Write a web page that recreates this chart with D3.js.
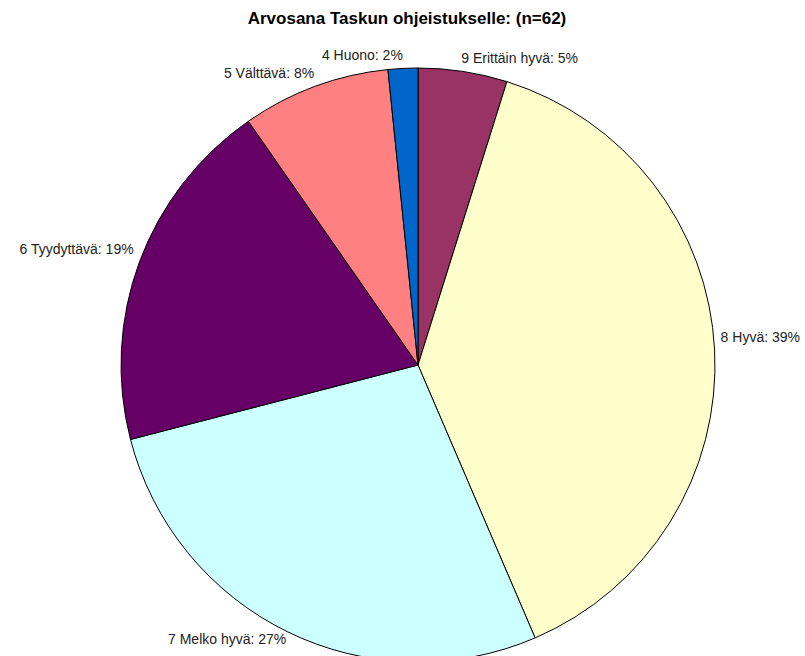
<!DOCTYPE html>
<html lang="fi">
<head>
<meta charset="utf-8">
<title>Arvosana Taskun ohjeistukselle</title>
<script src="https://cdn.jsdelivr.net/npm/d3@7"></script>
<style>
  body { margin: 0; background: #fff; }
  text { font-family: "Liberation Sans", Arial, sans-serif; }
</style>
</head>
<body>
<svg id="chart" width="805" height="656"></svg>
<script>
// data (n = 62), clockwise from 12 o'clock
var categories = ["9 Erittäin hyvä", "8 Hyvä", "7 Melko hyvä", "6 Tyydyttävä", "5 Välttävä", "4 Huono"];
var counts = [3, 24, 17, 12, 5, 1];
var colors = ["#993366", "#FFFFCC", "#CCFFFF", "#660066", "#FF8080", "#0066CC"];
var title = "Arvosana Taskun ohjeistukselle: (n=62)";

var total = d3.sum(counts);
var data = categories.map(function(c, i) { return { name: c, value: counts[i], color: colors[i] }; });

var svg = d3.select("#chart");
var cx = 418, cy = 365, r = 297;

// title
svg.append("text")
  .attr("x", 407)
  .attr("y", 24)
  .attr("text-anchor", "middle")
  .attr("font-size", "17px")
  .attr("font-weight", "bold")
  .attr("fill", "#000")
  .text(title);

var pie = d3.pie().sort(null).value(function(d) { return d.value; });
var arc = d3.arc().innerRadius(0).outerRadius(r);
var arcs = pie(data);

var g = svg.append("g").attr("transform", "translate(" + cx + "," + cy + ")");

g.selectAll("path")
  .data(arcs)
  .enter()
  .append("path")
  .attr("d", arc)
  .attr("fill", function(d) { return d.data.color; })
  .attr("stroke", "#000")
  .attr("stroke-width", 1);

// labels just outside the rim at each slice's mid angle
g.selectAll("text.lbl")
  .data(arcs)
  .enter()
  .append("text")
  .attr("class", "lbl")
  .attr("font-size", "14px")
  .attr("fill", "#222")
  .attr("dominant-baseline", "middle")
  .attr("text-anchor", function(d) {
    var a = (d.startAngle + d.endAngle) / 2;
    return Math.sin(a) >= 0 ? "start" : "end";
  })
  .attr("x", function(d) {
    var a = (d.startAngle + d.endAngle) / 2;
    return Math.sin(a) >= 0 ? (r + 2) * Math.sin(a) - 2 + (Math.sin(a) > 0.9 ? 6 : 0) : (r + 2) * Math.sin(a) + (Math.sin(a) < -0.9 ? -4 : 0);
  })
  .attr("y", function(d) {
    var a = (d.startAngle + d.endAngle) / 2;
    var y = -r * Math.cos(a);
    return Math.cos(a) >= 0 ? y - 12 : y + 9;
  })
  .text(function(d) {
    return d.data.name + ": " + Math.round(100 * d.data.value / total) + "%";
  });
</script>
</body>
</html>
